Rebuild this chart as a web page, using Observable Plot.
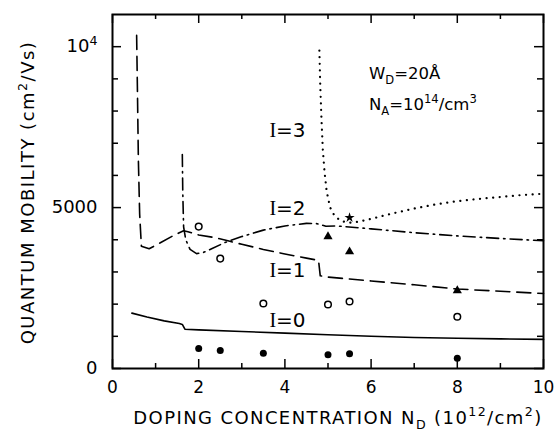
<!DOCTYPE html>
<html>
<head>
<meta charset="utf-8">
<script src="https://cdn.jsdelivr.net/npm/d3@7"></script>
<script src="https://cdn.jsdelivr.net/npm/@observablehq/plot@0.6"></script>
<style>
  body { margin: 0; background: #fff; }
  svg { display: block; }
</style>
</head>
<body>
<div id="chart"></div>
<script>
// ---- tick values and labels ----
const xMajorTicks = [0, 2, 4, 6, 8, 10];
const xMinorTicks = [1, 3, 5, 7, 9];
const yMajorTicks = [0, 5000, 10000];
const yMinorTicks = [1000, 2000, 3000, 4000, 6000, 7000, 8000, 9000];
const yTickLabels = ["0", "5000", "10^{4}"];

// ---- calculated curves ----
const i0X = [0.45, 0.8, 1.2, 1.55, 1.62, 1.68, 2, 3, 4, 5, 6, 7, 8, 9, 10];
const i0Y = [1720, 1600, 1480, 1400, 1370, 1220, 1200, 1150, 1100, 1050, 1000, 965, 940, 920, 905];

const i1X = [0.56, 0.58, 0.6, 0.63, 0.67, 0.85, 1.1, 1.4, 1.65, 1.75, 2.0, 2.4, 2.7, 3.0, 3.5, 4.0, 4.5, 4.78, 4.82, 5.0, 5.5, 6, 7, 8, 9, 10];
const i1Y = [10350, 8500, 6500, 4800, 3800, 3720, 3900, 4120, 4280, 4250, 4150, 4060, 3960, 3860, 3700, 3560, 3430, 3360, 2880, 2840, 2780, 2720, 2600, 2470, 2400, 2330];

const i2X = [1.62, 1.63, 1.65, 1.7, 1.8, 1.95, 2.1, 2.3, 2.6, 3.0, 3.5, 4.0, 4.5, 4.75, 4.95, 5.2, 6, 7, 8, 9, 10];
const i2Y = [6650, 5500, 4400, 4000, 3700, 3570, 3600, 3720, 3910, 4100, 4300, 4430, 4510, 4500, 4420, 4430, 4340, 4220, 4120, 4040, 3970];

const i3X = [4.8, 4.82, 4.85, 4.88, 4.92, 4.97, 5.05, 5.15, 5.3, 5.5, 5.7, 6, 6.5, 7, 7.5, 8, 8.5, 9, 9.5, 10];
const i3Y = [9880, 8800, 7700, 6800, 6100, 5500, 5000, 4750, 4580, 4530, 4560, 4650, 4820, 4970, 5100, 5200, 5270, 5330, 5390, 5430];

// ---- measured points ----
const filledX = [2, 2.5, 3.5, 5, 5.5, 8];
const filledY = [620, 560, 470, 430, 460, 320];
const openX = [2, 2.5, 3.5, 5, 5.5, 8];
const openY = [4410, 3415, 2020, 1990, 2080, 1610];
const triX = [5, 5.5, 8];
const triY = [4100, 3630, 2420];
const starX = [5.5];
const starY = [4690];

// ---- labels ----
const curveLabels = ["~{I}=0", "~{I}=1", "~{I}=2", "~{I}=3"];
const curveLabelX = [3.64, 3.64, 3.64, 3.64];
const curveLabelY = [1490, 3040, 4970, 7390];
const noteLabels = ["W_{D}=20Å", "N_{A}=10^{14}/cm^{3}"];
const noteX = [5.95, 5.95];
const noteY = [9150, 8200];
const xTitle = "DOPING CONCENTRATION N_{D} (10^{12}/cm^{2})";
const yTitle = "QUANTUM MOBILITY (cm^{2}/Vs)";

const W = 560, H = 436, ML = 112, MR = 17, MT = 14, MB = 68;
const FW = W - ML - MR, FH = H - MT - MB;

const pts = (xs, ys) => xs.map((x, i) => ({x, y: ys[i]}));

const lineStyle = {x: "x", y: "y", stroke: "#000", strokeWidth: 1.6, curve: "linear"};

const plot = Plot.plot({
  width: W, height: H,
  marginLeft: ML, marginRight: MR, marginTop: MT, marginBottom: MB,
  x: {domain: [0, 10]},
  y: {domain: [0, 11000]},
  style: {fontFamily: "DejaVu Sans", fontSize: "17px", color: "#000", background: "#fff"},
  marks: [
    Plot.line(pts(i0X, i0Y), {...lineStyle}),
    Plot.line(pts(i1X, i1Y), {...lineStyle, strokeDasharray: "14,7"}),
    Plot.line(pts(i2X, i2Y), {...lineStyle, strokeDasharray: "12,5,1.5,5"}),
    Plot.line(pts(i3X, i3Y), {...lineStyle, strokeWidth: 2.2, strokeLinecap: "round", strokeDasharray: "0.1,6.5"}),
    Plot.dot(pts(filledX, filledY), {x: "x", y: "y", r: 3.5, fill: "#000", stroke: "none"}),
    Plot.dot(pts(openX, openY), {x: "x", y: "y", r: 3.3, fill: "none", stroke: "#000", strokeWidth: 1.5}),
    Plot.dot(pts(triX, triY), {x: "x", y: "y", r: 3.4, symbol: "triangle", fill: "#000", stroke: "none"}),
    Plot.dot(pts(starX, starY), {x: "x", y: "y", r: 3.2, symbol: "star", fill: "#000", stroke: "none"}),
    // ticks (inward)
    Plot.tickX(xMajorTicks, {x: d => d, insetTop: FH - 9, strokeWidth: 1.5}),
    Plot.tickX(xMinorTicks, {x: d => d, insetTop: FH - 5, strokeWidth: 1.5}),
    Plot.tickX(xMajorTicks, {x: d => d, insetBottom: FH - 9, strokeWidth: 1.5}),
    Plot.tickX(xMinorTicks, {x: d => d, insetBottom: FH - 5, strokeWidth: 1.5}),
    Plot.tickY(yMajorTicks, {y: d => d, insetRight: FW - 9, strokeWidth: 1.5}),
    Plot.tickY(yMinorTicks, {y: d => d, insetRight: FW - 6, strokeWidth: 1.5}),
    Plot.tickY(yMajorTicks, {y: d => d, insetLeft: FW - 9, strokeWidth: 1.5}),
    Plot.tickY(yMinorTicks, {y: d => d, insetLeft: FW - 6, strokeWidth: 1.5}),
    Plot.frame({stroke: "#000", strokeWidth: 2}),
    // tick labels
    Plot.axisX({ticks: xMajorTicks, tickSize: 0, tickPadding: 12, label: null, fontSize: 17}),
    Plot.axisY({ticks: yMajorTicks, tickSize: 0, tickPadding: 15, label: null, fontSize: 18,
                tickFormat: d => yTickLabels[yMajorTicks.indexOf(d)]}),
    // curve labels and notes
    Plot.text(curveLabels, {x: curveLabelX, y: curveLabelY, text: d => d, textAnchor: "start", fontSize: 20}),
    Plot.text(noteLabels, {x: noteX, y: noteY, text: d => d, textAnchor: "start", fontSize: 16.5, letterSpacing: "1px"}),
    // axis titles
    Plot.text([xTitle], {text: d => d, frameAnchor: "bottom", textAnchor: "middle", dx: 10, dy: 55, fontSize: 18}),
    Plot.text([yTitle], {text: d => d, frameAnchor: "left", textAnchor: "middle", rotate: -90, dx: -84, dy: 1, fontSize: 18})
  ]
});

// Rich text: _{sub}, ^{sup}, ~{serif}
function rich(el) {
  const str = el.textContent;
  if (!/[_^~]\{/.test(str)) return;
  const size = parseFloat(getComputedStyle(el).fontSize) || 17;
  el.textContent = "";
  let shift = 0;
  const parts = str.split(/([_^~]\{[^}]*\})/).filter(s => s);
  for (const p of parts) {
    let kind = null, s = p;
    if (/^[_^~]\{/.test(p)) { kind = p[0]; s = p.slice(2, -1); }
    const target = kind === "_" ? 0.28 * size : kind === "^" ? -0.42 * size : 0;
    const t = d3.select(el).append("tspan").text(s);
    if (target - shift !== 0) t.attr("dy", target - shift);
    if (kind === "_" || kind === "^") t.attr("font-size", 0.7 * size);
    if (kind === "~") t.attr("font-family", "Liberation Serif");
    shift = target;
  }
}

document.getElementById("chart").appendChild(plot);
d3.select(plot).selectAll("text").each(function() { rich(this); });
d3.select(plot).selectAll("text").filter(function(){ return /DOPING/.test(this.textContent); })
  .attr("letter-spacing", "1.4px");
d3.select(plot).selectAll("text").filter(function(){ return /QUANTUM/.test(this.textContent); })
  .attr("letter-spacing", "1.5px");
</script>
</body>
</html>
